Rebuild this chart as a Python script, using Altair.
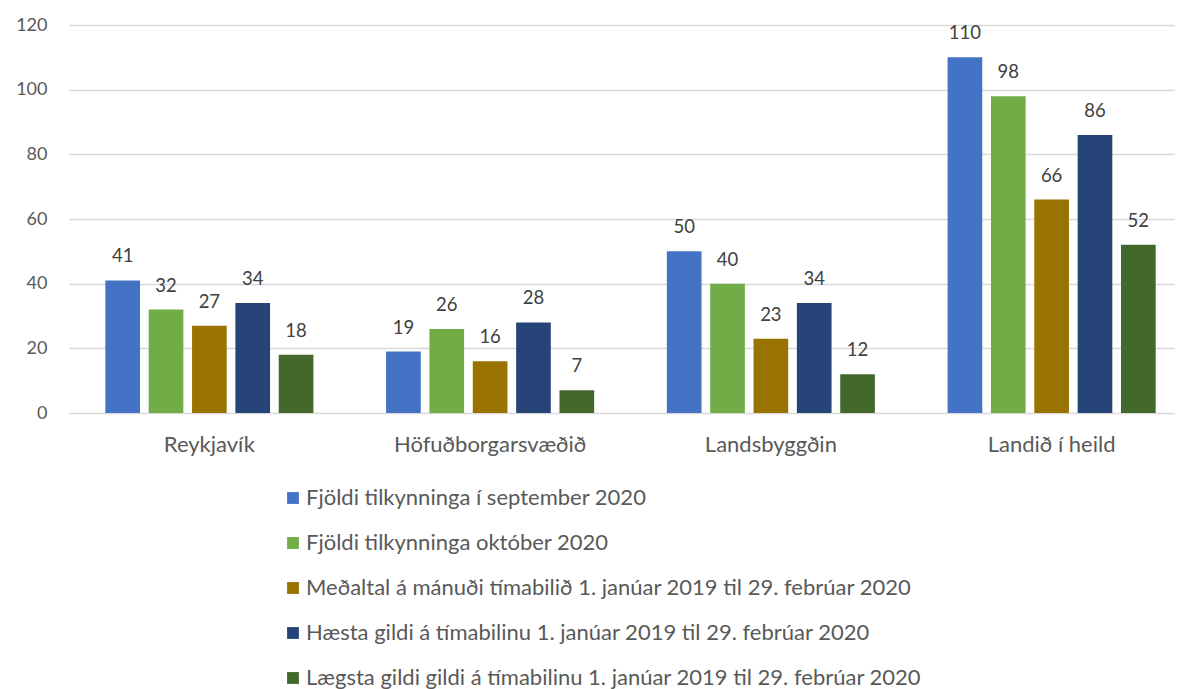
import altair as alt
import pandas as pd

categories = ["Reykjavík", "Höfuðborgarsvæðið", "Landsbyggðin", "Landið í heild"]
series = [
    "Fjöldi tilkynninga í september 2020",
    "Fjöldi tilkynninga október 2020",
    "Meðaltal á mánuði tímabilið 1. janúar 2019 til 29. febrúar 2020",
    "Hæsta gildi á tímabilinu 1. janúar 2019 til 29. febrúar 2020",
    "Lægsta gildi gildi á tímabilinu 1. janúar 2019 til 29. febrúar 2020",
]
values = [
    [41, 19, 50, 110],
    [32, 26, 40, 98],
    [27, 16, 23, 66],
    [34, 28, 34, 86],
    [18, 7, 12, 52],
]
colors = ["#4472C4", "#70AD47", "#997300", "#264478", "#43682B"]
y_ticks = [0, 20, 40, 60, 80, 100, 120]

rows = []
for s, vals in zip(series, values):
    for c, v in zip(categories, vals):
        rows.append({"Flokkur": c, "Röð": s, "Fjöldi": v})
df = pd.DataFrame(rows)

FONT = "Lato"

x = alt.X("Flokkur:N", sort=categories,
          scale=alt.Scale(range=[0, 1123], paddingInner=0.228, paddingOuter=0.114),
          axis=alt.Axis(title=None, labelAngle=0, labelFontSize=22, labelColor="#595959",
                        labelFont=FONT, labelPadding=21, labelLimit=0,
                        ticks=False, domain=False))
y = alt.Y("Fjöldi:Q", scale=alt.Scale(domain=[0, 120], nice=False),
          axis=alt.Axis(title=None, values=y_ticks, labelFontSize=18, labelColor="#595959",
                        labelFont=FONT, labelPadding=22, ticks=False, domain=False,
                        gridColor="#D9D9D9", gridWidth=1.5))
xoff = alt.XOffset("Röð:N", sort=series,
                   scale=alt.Scale(paddingInner=0.2, paddingOuter=0.1))

bars = alt.Chart(df).mark_bar().encode(
    x=x, y=y, xOffset=xoff,
    color=alt.Color("Röð:N", sort=series,
                    scale=alt.Scale(domain=series, range=colors),
                    legend=alt.Legend(title=None, orient="none", legendX=213, legendY=462,
                                      direction="vertical", symbolType="square",
                                      symbolSize=140, symbolStrokeWidth=0,
                                      labelFontSize=22, labelColor="#595959", labelFont=FONT,
                                      rowPadding=23, labelOffset=2, labelLimit=0)),
)

labels = alt.Chart(df).mark_text(baseline="alphabetic", dy=-18, fontSize=18.5,
                                 color="#404040", font=FONT).encode(
    x=x, y=y, xOffset=xoff, text="Fjöldi:Q"
)

chart = alt.layer(bars, labels).properties(
    width=1106, height=388,
    autosize=alt.AutoSizeParams(type="none"),
    padding={"left": 61, "top": 17, "right": 0, "bottom": 276},
).configure_view(stroke=None)

chart.save("out.html", embed_options={"renderer": "svg", "actions": False})
